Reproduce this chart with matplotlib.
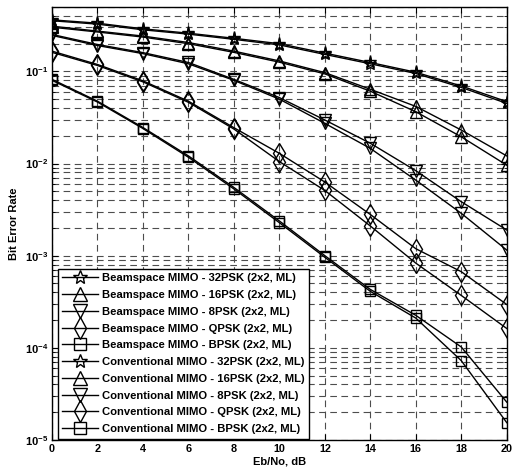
import matplotlib
matplotlib.use('Agg')
import matplotlib.pyplot as plt
from matplotlib.ticker import LogLocator, NullFormatter

plt.rcParams['font.family'] = ['Liberation Sans', 'DejaVu Sans']
plt.rcParams['font.weight'] = 'bold'
plt.rcParams['mathtext.fontset'] = 'custom'
plt.rcParams['mathtext.bf'] = 'Liberation Sans:bold'
plt.rcParams['mathtext.rm'] = 'Liberation Sans:bold'

# Eb/No points (dB)
snr = [0, 2, 4, 6, 8, 10, 12, 14, 16, 18, 20]

# beamspace MIMO curves
bs_32psk = [0.363, 0.334, 0.290, 0.260, 0.229, 0.200, 0.158, 0.125, 0.098, 0.0695, 0.047]
bs_16psk = [0.310, 0.274, 0.242, 0.206, 0.166, 0.130, 0.097, 0.064, 0.0417, 0.0231, 0.0121]
bs_8psk = [0.252, 0.196, 0.160, 0.125, 0.082, 0.052, 0.0297, 0.0166, 0.00836, 0.00385, 0.0019]
bs_qpsk = [0.166, 0.119, 0.079, 0.0475, 0.0245, 0.0129, 0.0063, 0.0028, 0.00119, 0.00067, 0.000295]
bs_bpsk = [0.082, 0.0475, 0.0246, 0.0121, 0.0055, 0.00238, 0.00100, 0.00043, 0.000225, 0.000102, 2.57e-5]

# conventional MIMO curves
cv_32psk = [0.355, 0.326, 0.283, 0.254, 0.223, 0.194, 0.153, 0.121, 0.095, 0.067, 0.045]
cv_16psk = [0.302, 0.268, 0.236, 0.200, 0.161, 0.126, 0.094, 0.061, 0.0365, 0.0195, 0.0096]
cv_8psk = [0.246, 0.191, 0.156, 0.121, 0.080, 0.050, 0.0273, 0.0146, 0.0066, 0.00288, 0.00115]
cv_qpsk = [0.161, 0.116, 0.077, 0.0462, 0.0237, 0.0105, 0.0051, 0.0021, 0.00083, 0.00037, 0.000162]
cv_bpsk = [0.080, 0.0465, 0.0240, 0.0117, 0.0053, 0.00228, 0.00096, 0.00041, 0.00021, 7.25e-5, 1.54e-5]

labels = ['Beamspace MIMO - 32PSK (2x2, ML)',
          'Beamspace MIMO - 16PSK (2x2, ML)',
          'Beamspace MIMO - 8PSK (2x2, ML)',
          'Beamspace MIMO - QPSK (2x2, ML)',
          'Beamspace MIMO - BPSK (2x2, ML)',
          'Conventional MIMO - 32PSK (2x2, ML)',
          'Conventional MIMO - 16PSK (2x2, ML)',
          'Conventional MIMO - 8PSK (2x2, ML)',
          'Conventional MIMO - QPSK (2x2, ML)',
          'Conventional MIMO - BPSK (2x2, ML)']

curves = [bs_32psk, bs_16psk, bs_8psk, bs_qpsk, bs_bpsk,
          cv_32psk, cv_16psk, cv_8psk, cv_qpsk, cv_bpsk]
markers = ['*', '^', 'v', 'd', 's'] * 2
msizes = [9.5, 9, 9, 10, 7.5] * 2

fig = plt.figure(figsize=(5.15, 4.69), dpi=100)
ax = fig.add_axes([0.101, 0.062, 0.883, 0.923])

for y, m, ms, lab in zip(curves, markers, msizes, labels):
    ax.semilogy(snr, y, color='black', linewidth=1.0, marker=m, markersize=ms,
                markerfacecolor='none', markeredgecolor='black',
                markeredgewidth=1.0, label=lab)

ax.set_xlim(0, 20)
ax.set_ylim(1e-5, 0.5)
ax.set_xticks(snr)
ax.set_xticklabels([str(v) for v in snr], fontsize=7.8, fontweight='bold')
ax.set_yticks([1e-5, 1e-4, 1e-3, 1e-2, 1e-1])
ax.set_yticklabels([r'$\mathbf{10^{-5}}$', r'$\mathbf{10^{-4}}$', r'$\mathbf{10^{-3}}$',
                    r'$\mathbf{10^{-2}}$', r'$\mathbf{10^{-1}}$'], fontsize=8)
ax.yaxis.set_minor_locator(LogLocator(base=10, subs=range(2, 10), numticks=20))
ax.yaxis.set_minor_formatter(NullFormatter())

ax.tick_params(which='both', direction='in', top=True, right=True)
ax.tick_params(which='major', length=4, pad=3)
ax.tick_params(which='minor', length=2)

ax.grid(True, which='major', axis='both', linestyle=(0, (6, 4)), color='0.3', linewidth=0.8)
ax.grid(True, which='minor', axis='y', linestyle=(0, (6, 4)), color='0.3', linewidth=0.8)
for s in ax.spines.values():
    s.set_linewidth(1.0)

ax.set_xlabel('Eb/No, dB', fontsize=8, fontweight='bold', labelpad=2)
ax.set_ylabel('Bit Error Rate', fontsize=8, fontweight='bold', labelpad=4)

leg = ax.legend(loc='lower left', bbox_to_anchor=(0.013, 0.003), fontsize=8.1,
                handlelength=3.2, handletextpad=0.3, labelspacing=0.6,
                borderpad=0.4, borderaxespad=0.0, fancybox=False, markerscale=1.1,
                framealpha=1, edgecolor='black')
leg.get_frame().set_linewidth(1.0)

fig.savefig('out.png', dpi=100)
